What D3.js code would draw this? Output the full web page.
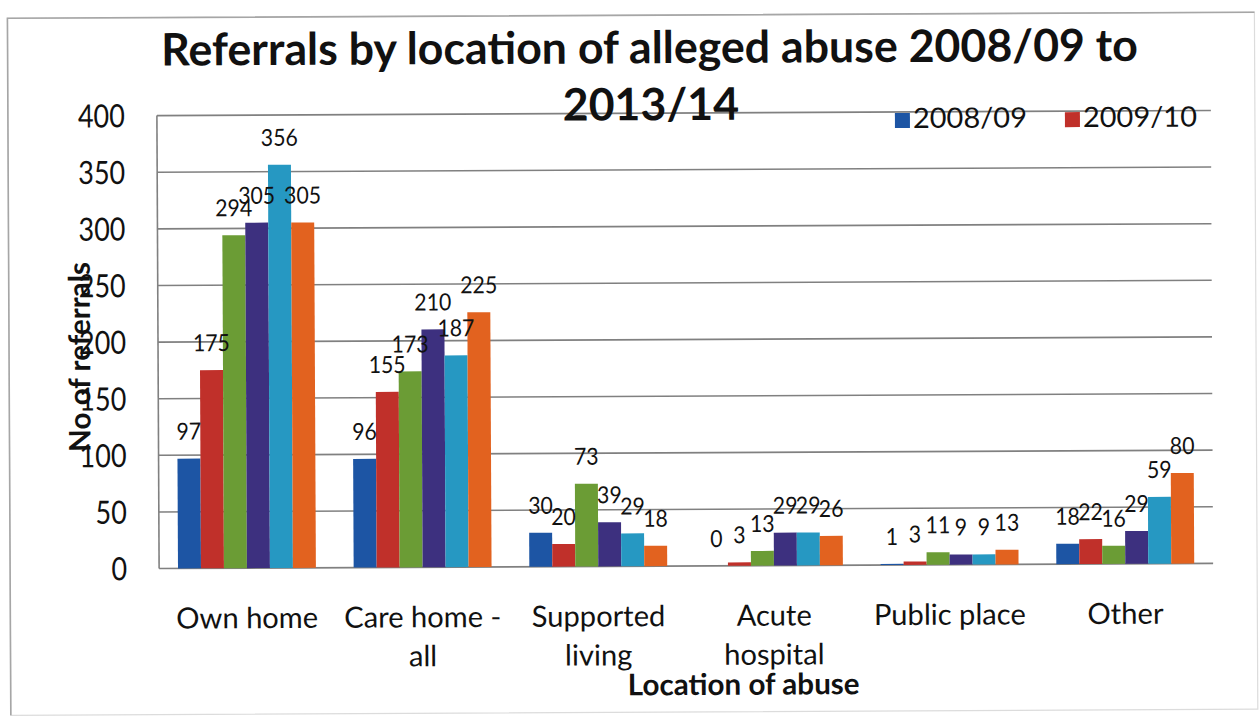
<!DOCTYPE html>
<html>
<head>
<meta charset="utf-8">
<script src="https://cdn.jsdelivr.net/npm/d3@7"></script>
<style>
  html, body { margin: 0; padding: 0; background: #fff; }
  svg { display: block; }
  text { font-family: Lato, "Open Sans", sans-serif; fill: #111; }
</style>
</head>
<body>
<svg id="chart" width="1259" height="716"></svg>
<script>
// Referrals by location, one series per financial year
const categories = ["Own home", "Care home - all", "Supported living", "Acute hospital", "Public place", "Other"];
const categoryLines = [["Own home"], ["Care home -", "all"], ["Supported", "living"], ["Acute", "hospital"], ["Public place"], ["Other"]];
const years = ["2008/09", "2009/10", "2010/11", "2011/12", "2012/13", "2013/14"];
const values2008 = [97, 96, 30, 0, 1, 18];
const values2009 = [175, 155, 20, 3, 3, 22];
const values2010 = [294, 173, 73, 13, 11, 16];
const values2011 = [305, 210, 39, 29, 9, 29];
const values2012 = [356, 187, 29, 29, 9, 59];
const values2013 = [305, 225, 18, 26, 13, 80];
const yTicks = [0, 50, 100, 150, 200, 250, 300, 350, 400];
const legendYears = ["2008/09", "2009/10"];

const seriesValues = [values2008, values2009, values2010, values2011, values2012, values2013];
const colors = ["#1d55a4", "#c0302a", "#6b9c35", "#3d307f", "#2698c2", "#e2621f"];

const svg = d3.select("#chart");

// the whole sheet sits very slightly tilted
const root = svg.append("g").attr("transform", "rotate(-0.28 685 340)");

// font size that makes a sample string span a given width
function sizeFor(sample, weight, target) {
  const t = root.append("text").attr("font-size", 100).attr("font-weight", weight).text(sample);
  const w = t.node().getComputedTextLength();
  t.remove();
  return 100 * target / w;
}

// draw at a tall size but keep the width of a smaller one (narrow digits)
function narrow(sel, tallSize, widthSize) {
  sel.attr("font-size", tallSize).each(function() {
    const w = this.getComputedTextLength();
    d3.select(this)
      .attr("textLength", w * widthSize / tallSize)
      .attr("lengthAdjust", "spacingAndGlyphs");
  });
}

const fsTitle = sizeFor("Referrals by location of alleged abuse 2008/09 to", "bold", 977);
const fsTick = sizeFor("400", "normal", 47);
const fsLegend = sizeFor("2008/09", "normal", 114);
const fsCat = sizeFor("Own home", "normal", 142);
const fsLabel = sizeFor("175", "normal", 37);
const fsXTitle = sizeFor("Location of abuse", "bold", 232);
const fsYTitle = sizeFor("No of referrals", "bold", 190);

// outer frame
root.append("rect")
  .attr("x", 9).attr("y", 15).attr("width", 1247).attr("height", 697)
  .attr("fill", "none").attr("stroke", "#dcdcdc").attr("stroke-width", 1.2);
root.append("path")
  .attr("d", "M9,712V15H1256")
  .attr("fill", "none").attr("stroke", "#a6a6a6").attr("stroke-width", 1.6);

const plotLeft = 158, plotRight = 1212, plotBottom = 566, plotTop = 113;

const x0 = d3.scaleBand().domain(categories).range([plotLeft, plotRight])
  .paddingInner(0.215).paddingOuter(0.1075);
const x1 = d3.scaleBand().domain(years).range([0, x0.bandwidth()]);
const y = d3.scaleLinear().domain([0, 400]).range([plotBottom, plotTop]);

// gridlines
root.append("g").selectAll("line").data(yTicks).join("line")
  .attr("x1", plotLeft).attr("x2", plotRight)
  .attr("y1", d => y(d)).attr("y2", d => y(d))
  .attr("stroke", "#808080").attr("stroke-width", 1.6);

// value axis line
root.append("line")
  .attr("x1", plotLeft).attr("x2", plotLeft)
  .attr("y1", y(400)).attr("y2", y(0))
  .attr("stroke", "#808080").attr("stroke-width", 1.6);

// tick labels
root.append("g").selectAll("text").data(yTicks).join("text")
  .attr("x", 126).attr("y", d => y(d)).attr("dy", "0.36em")
  .attr("text-anchor", "end")
  .text(d => d)
  .call(narrow, 32, fsTick);

// bars
const groups = root.append("g").selectAll("g").data(categories).join("g")
  .attr("transform", c => `translate(${x0(c)},0)`);

groups.selectAll("rect")
  .data((c, ci) => years.map((yr, si) => ({ yr, si, v: seriesValues[si][ci] })))
  .join("rect")
  .attr("x", d => x1(d.yr))
  .attr("width", x1.bandwidth())
  .attr("y", d => y(d.v))
  .attr("height", d => y(0) - y(d.v))
  .attr("fill", d => colors[d.si]);

// value labels above each bar
groups.selectAll("text.val")
  .data((c, ci) => years.map((yr, si) => ({ yr, si, v: seriesValues[si][ci] })))
  .join("text")
  .attr("class", "val")
  .attr("x", d => x1(d.yr) + x1.bandwidth() / 2)
  .attr("y", d => y(d.v) - 19)
  .attr("text-anchor", "middle")
  .text(d => d.v)
  .call(narrow, 23.5, fsLabel);

// category labels
root.append("g").selectAll("text").data(categories).join("text")
  .attr("x", c => x0(c) + x0.bandwidth() / 2)
  .attr("y", 626)
  .attr("text-anchor", "middle")
  .attr("font-size", fsCat)
  .each(function(c, i) {
    d3.select(this).selectAll("tspan").data(categoryLines[i]).join("tspan")
      .attr("x", x0(c) + x0.bandwidth() / 2)
      .attr("dy", (d, j) => j === 0 ? 0 : 39)
      .text(d => d);
  });

// axis titles
root.append("text")
  .attr("x", 742).attr("y", 695)
  .attr("text-anchor", "middle").attr("font-weight", "bold")
  .attr("font-size", fsXTitle)
  .text("Location of abuse");

root.append("text")
  .attr("transform", "translate(90,354) rotate(-90)")
  .attr("text-anchor", "middle").attr("font-weight", "bold")
  .attr("font-size", fsYTitle)
  .text("No of referrals");

// chart title on two lines
root.append("text")
  .attr("x", 651).attr("y", 63)
  .attr("text-anchor", "middle").attr("font-weight", "bold")
  .attr("font-size", fsTitle)
  .text("Referrals by location of alleged abuse 2008/09 to");
root.append("text")
  .attr("x", 652).attr("y", 120)
  .attr("text-anchor", "middle").attr("font-weight", "bold")
  .attr("font-size", fsTitle)
  .text("2013/14");

// legend (first two years only)
const legend = root.append("g").selectAll("g").data(legendYears).join("g")
  .attr("transform", (d, i) => `translate(${[896, 1066][i]},114)`);
legend.append("rect")
  .attr("width", 15).attr("height", 15)
  .attr("fill", (d, i) => colors[i]);
legend.append("text")
  .attr("x", 18).attr("y", 15)
  .text(d => d)
  .call(narrow, 28, fsLegend);
</script>
</body>
</html>
